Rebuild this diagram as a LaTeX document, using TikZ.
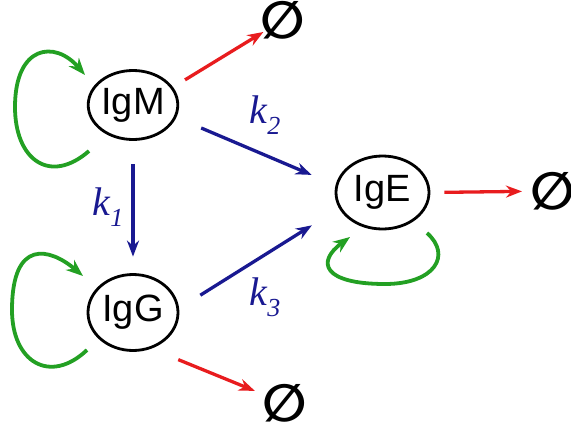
\documentclass[tikz,border=0pt]{standalone}
\usepackage{fontspec}
\setmainfont{Liberation Serif}
\newfontfamily\sansf{Liberation Sans}
\newfontfamily\symf{DejaVu Sans}
\usetikzlibrary{arrows.meta,shapes.geometric}
\definecolor{myred}{RGB}{232,28,30}
\definecolor{myblue}{RGB}{25,25,145}
\definecolor{mygreen}{RGB}{35,160,35}
\newcommand{\kk}[1]{\itshape k\raisebox{-0.28em}{\fontsize{26}{26}\selectfont #1}}
\begin{document}
\begin{tikzpicture}[x=1pt,y=-1pt,
  ig/.style={ellipse,draw=black,line width=2.8pt,inner sep=0pt,font=\sansf\fontsize{38}{40}\selectfont},
  nil/.style={inner sep=0pt,font=\symf\bfseries\fontsize{52}{52}\selectfont},
  rarr/.style={draw=myred,line width=3.3pt,-{Stealth[length=16pt,width=12pt]}},
  barr/.style={draw=myblue,line width=3.3pt,-{Stealth[length=16pt,width=12pt]}},
  garr/.style={draw=mygreen,line width=3.8pt,-{Stealth[length=17pt,width=13pt]}},
  klab/.style={text=myblue,inner sep=0pt,font=\fontsize{40}{40}\selectfont}]
\useasboundingbox (0,0) rectangle (571,429);
\node[ig,minimum width=89pt,minimum height=69pt] (IgM) at (133,105) {IgM};
\node[ig,minimum width=90pt,minimum height=76pt] (IgG) at (133,312.5) {IgG};
\node[ig,minimum width=93pt,minimum height=73pt] (IgE) at (382.5,192.5) {IgE};
\node[nil] (n1) at (283,20) {∅};
\node[nil] (n2) at (553,191) {∅};
\node[nil] (n3) at (284.5,403) {∅};
% blue transitions
\draw[barr,shorten <=23.5pt,shorten >=16.5pt] (IgM.south) -- (IgG.north);
\draw[barr,shorten <=27pt,shorten >=26pt] (IgM.-16) -- (IgE.171);
\draw[barr,shorten <=25pt,shorten >=32pt] (IgG.5) -- (IgE.200);
% red decay
\draw[rarr,shorten <=14pt,shorten >=23pt] (IgM.24) -- (n1.center);
\draw[rarr,shorten <=14pt,shorten >=31pt] (IgE.east) -- (n2.center);
\draw[rarr,shorten <=29pt,shorten >=32pt] (IgG.-63) -- (n3.center);
% green self loops
\begin{scope}[shift={(IgM)}]
\draw[garr] (-44,46) .. controls (-83,80) and (-118,55) .. (-118,2) .. controls (-118,-60) and (-78,-65) .. (-48,-30);
\end{scope}
\begin{scope}[shift={(IgG)}]
\draw[garr] (-46,37.5) .. controls (-83,72.5) and (-121,49.5) .. (-121,-2.5) .. controls (-121,-74.5) and (-83,-64.5) .. (-50,-36.5);
\end{scope}
\begin{scope}[shift={(IgE)}]
\draw[garr] (44.5,40.5) .. controls (69.5,62.5) and (52.5,91.5) .. (2.5,91.5) .. controls (-59.5,91.5) and (-66.5,69.5) .. (-32.5,44.5);
\end{scope}
% rate labels
\node[klab] (k1) at (108,207) {\kk{1}};
\node[klab] (k2) at (265,115) {\kk{2}};
\node[klab] (k3) at (265,297) {\kk{3}};
\end{tikzpicture}
\end{document}
